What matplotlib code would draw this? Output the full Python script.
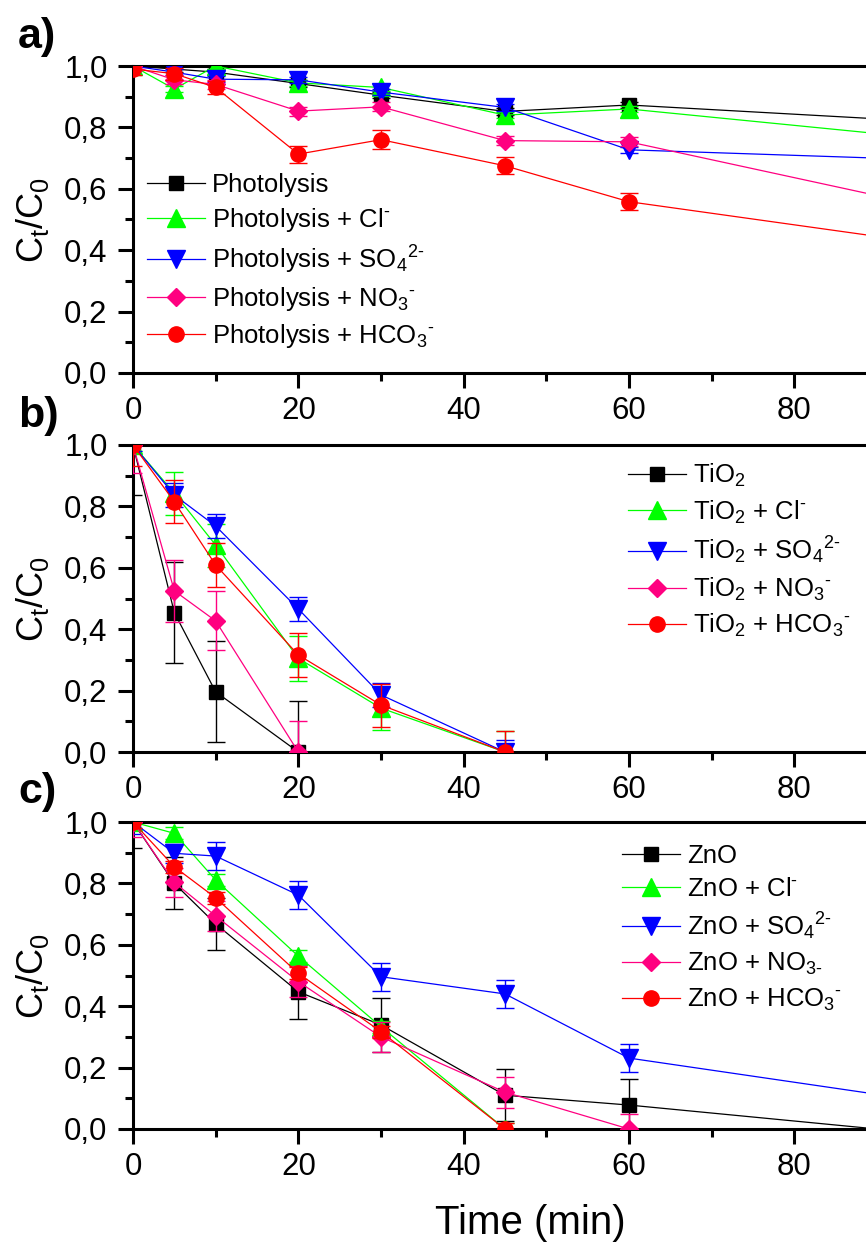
import matplotlib
matplotlib.use('Agg')
import matplotlib.pyplot as plt
import matplotlib.ticker as mtick

plt.rcParams['font.family'] = ['Liberation Sans', 'DejaVu Sans']
plt.rcParams['mathtext.fontset'] = 'custom'
plt.rcParams['mathtext.rm'] = 'Liberation Sans'
plt.rcParams['mathtext.it'] = 'Liberation Sans:italic'
plt.rcParams['mathtext.bf'] = 'Liberation Sans:bold'
plt.rcParams['mathtext.fallback'] = 'stixsans'

# ---- data ----
# a) photolysis
t_a = [0, 5, 10, 20, 30, 45, 60, 90]
photo = [1.0, 0.99, 0.98, 0.943, 0.905, 0.852, 0.873, 0.828]
photo_cl = [1.0, 0.925, 1.0, 0.945, 0.93, 0.84, 0.86, 0.78]
photo_so4 = [1.0, 0.98, 0.957, 0.955, 0.915, 0.865, 0.727, 0.70]
photo_no3 = [1.0, 0.955, 0.94, 0.853, 0.867, 0.757, 0.753, 0.578]
photo_hco3 = [0.99, 0.975, 0.93, 0.713, 0.76, 0.675, 0.558, 0.445]
err_photo = [0.01, 0.01, 0.01, 0.01, 0.01, 0.01, 0.01, 0.01]
err_photo_cl = [0.01, 0.01, 0.01, 0.01, 0.01, 0.01, 0.01, 0.01]
err_photo_so4 = [0.01, 0.01, 0.01, 0.01, 0.01, 0.01, 0.01, 0.01]
err_photo_no3 = [0.015, 0.015, 0.015, 0.015, 0.015, 0.015, 0.015, 0.015]
err_photo_hco3 = [0.02, 0.02, 0.02, 0.028, 0.031, 0.028, 0.028, 0.028]

# b) TiO2
t_b = [0, 5, 10, 20, 30, 45]
tio2 = [1.0, 0.454, 0.196, 0.0]
tio2_cl = [1.0, 0.843, 0.674, 0.305, 0.143, 0.0]
tio2_so4 = [1.0, 0.837, 0.736, 0.466, 0.186, 0.0]
tio2_no3 = [1.0, 0.525, 0.427, 0.0]
tio2_hco3 = [1.0, 0.815, 0.609, 0.316, 0.153, 0.0]
err_tio2 = [0.163, 0.165, 0.165, 0.165]
err_tio2_cl = [0.02, 0.07, 0.07, 0.073, 0.07, 0.07]
err_tio2_so4 = [0.02, 0.04, 0.04, 0.04, 0.04, 0.04]
err_tio2_no3 = [0.09, 0.1, 0.096, 0.1]
err_tio2_hco3 = [0.07, 0.07, 0.073, 0.073, 0.07, 0.07]

# c) ZnO
t_c = [0, 5, 10, 20, 30, 45, 60, 90]
zno = [1.0, 0.80, 0.668, 0.447, 0.339, 0.11, 0.078, 0.0]
zno_cl = [1.0, 0.963, 0.811, 0.563, 0.333, 0.0]
zno_so4 = [1.0, 0.898, 0.889, 0.762, 0.496, 0.44, 0.231, 0.113]
zno_no3 = [1.0, 0.803, 0.694, 0.48, 0.30, 0.12, 0.0]
zno_hco3 = [1.0, 0.854, 0.753, 0.507, 0.317, 0.0]
err_zno = [0.085, 0.085, 0.086, 0.09, 0.087, 0.085, 0.085, 0.0]
err_zno_cl = [0.02, 0.02, 0.02, 0.02, 0.02, 0.02]
err_zno_so4 = [0.04, 0.03, 0.045, 0.045, 0.045, 0.045, 0.045, 0.045]
err_zno_no3 = [0.05, 0.047, 0.05, 0.05, 0.05, 0.05, 0.05]
err_zno_hco3 = [0.02, 0.02, 0.02, 0.02, 0.02, 0.02]

colors = ['#000000', '#00ff00', '#0000ff', '#ff0080', '#ff0000']
markers = ['s', '^', 'v', 'D', 'o']
msizes = [9.5, 13, 13, 9.5, 11]

W, H = 866, 1242
fig = plt.figure(figsize=(W / 100, H / 100), dpi=100)

X0 = 133
XMAX = (W - X0) / 8.266
HY = '\u2010'  # short hyphen for the ion charges


def comma(v, pos):
    return ('%.1f' % v).replace('.', ',')


def make_axes(top_px):
    ax = fig.add_axes([X0 / W, 1 - (top_px + 307) / H, 1 - X0 / W, 307 / H])
    ax.set_xlim(0, XMAX)
    ax.set_ylim(0, 1.0)
    ax.spines['right'].set_visible(False)
    for s in ['left', 'top', 'bottom']:
        ax.spines[s].set_linewidth(2.2)
    ax.xaxis.set_major_locator(mtick.MultipleLocator(20))
    ax.xaxis.set_minor_locator(mtick.MultipleLocator(10))
    ax.yaxis.set_major_locator(mtick.MultipleLocator(0.2))
    ax.yaxis.set_minor_locator(mtick.MultipleLocator(0.1))
    ax.yaxis.set_major_formatter(mtick.FuncFormatter(comma))
    ax.tick_params(which='major', direction='out', length=10.8, width=2.2,
                   labelsize=22.5)
    ax.tick_params(which='minor', direction='out', length=5.8, width=2.2)
    ax.tick_params(axis='x', which='major', pad=6)
    ax.tick_params(axis='y', which='major', pad=7.5)
    ax.tick_params(top=False, right=False)
    ax.set_ylabel(r'C$_\mathrm{t}$/C$_\mathrm{0}$', fontsize=26)
    ax.yaxis.set_label_coords(-0.112, 0.5)
    return ax


def draw(ax, ts, series, errs, labels, leg_xy, leg_fs=18.5):
    for i, (y, e, lab) in enumerate(zip(series, errs, labels)):
        t = ts[:len(y)]
        ax.errorbar(t, y, yerr=e, fmt='none', ecolor=colors[i], elinewidth=1.0,
                    capsize=6.5, capthick=1.0, zorder=2 + i)
        ax.plot(t, y, color=colors[i], lw=0.9, marker=markers[i],
                ms=msizes[i], mec=colors[i], mfc=colors[i], label=lab,
                zorder=3 + i)
    ax.legend(loc='upper left', bbox_to_anchor=(leg_xy[0] / W, 1 - leg_xy[1] / H),
              bbox_transform=fig.transFigure, frameon=False, fontsize=leg_fs,
              borderpad=0, borderaxespad=0, handlelength=2.25,
              handletextpad=0.28, labelspacing=0.36)


ax_a = make_axes(66)
draw(ax_a, t_a,
     [photo, photo_cl, photo_so4, photo_no3, photo_hco3],
     [err_photo, err_photo_cl, err_photo_so4, err_photo_no3, err_photo_hco3],
     ['Photolysis', 'Photolysis + Cl$^{' + HY + '}$',
      'Photolysis + SO$_4$$^{2' + HY + '}$',
      'Photolysis + NO$_3$$^{' + HY + '}$',
      'Photolysis + HCO$_3$$^{' + HY + '}$'],
     (147, 173))

ax_b = make_axes(445)
draw(ax_b, t_b,
     [tio2, tio2_cl, tio2_so4, tio2_no3, tio2_hco3],
     [err_tio2, err_tio2_cl, err_tio2_so4, err_tio2_no3, err_tio2_hco3],
     ['TiO$_2$', 'TiO$_2$ + Cl$^{' + HY + '}$',
      'TiO$_2$ + SO$_4$$^{2' + HY + '}$',
      'TiO$_2$ + NO$_3$$^{' + HY + '}$',
      'TiO$_2$ + HCO$_3$$^{' + HY + '}$'],
     (628, 462))

ax_c = make_axes(822)
draw(ax_c, t_c,
     [zno, zno_cl, zno_so4, zno_no3, zno_hco3],
     [err_zno, err_zno_cl, err_zno_so4, err_zno_no3, err_zno_hco3],
     ['ZnO', 'ZnO + Cl$^{' + HY + '}$', 'ZnO + SO$_4$$^{2' + HY + '}$',
      'ZnO + NO$_{3' + HY + '}$', 'ZnO + HCO$_3$$^{' + HY + '}$'],
     (622, 844))
ax_c.set_xlabel('Time (min)', fontsize=29)
ax_c.xaxis.set_label_coords((530 - X0) / (W - X0), -0.243)

# panel letters
fig.text(18 / W, 1 - 37 / H, 'a)', fontsize=31, fontweight='bold', va='center')
fig.text(18 / W, 1 - 416 / H, 'b)', fontsize=31, fontweight='bold', va='center')
fig.text(18 / W, 1 - 792 / H, 'c)', fontsize=31, fontweight='bold', va='center')

fig.savefig('out.png', dpi=100)
